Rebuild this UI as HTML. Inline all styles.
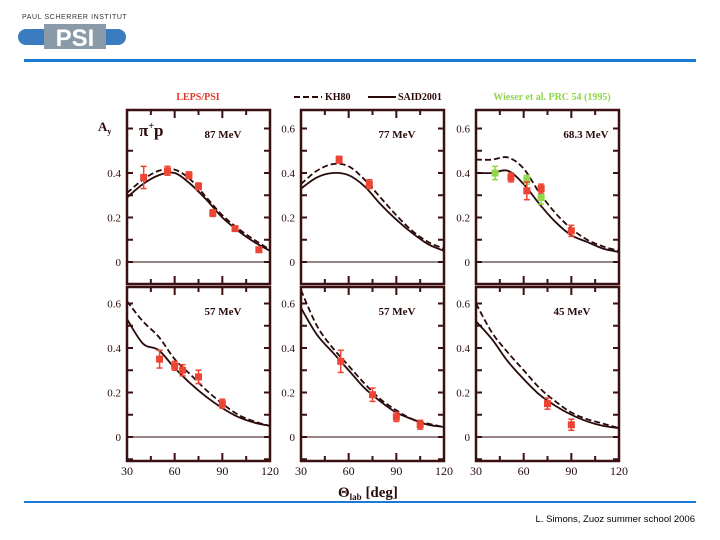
<!DOCTYPE html>
<html><head><meta charset="utf-8"><style>
body{margin:0;background:#fff;width:720px;height:540px;overflow:hidden}
svg{display:block}
</style></head><body>
<svg id="s" width="720" height="540" xmlns="http://www.w3.org/2000/svg" font-family="Liberation Serif, serif">
<g>
<text x="22" y="19" font-family="Liberation Sans, sans-serif" font-size="7" fill="#333" letter-spacing="0.6">PAUL SCHERRER INSTITUT</text>
<rect x="18" y="29" width="108" height="16" rx="8" fill="#3b7cc0"/>
<rect x="44" y="24" width="62" height="25" fill="#8a9aa8"/>
<text x="75" y="46" text-anchor="middle" font-family="Liberation Sans, sans-serif" font-weight="bold" font-size="24" fill="#fff">PSI</text>
</g>
<rect x="24" y="59" width="672" height="3" fill="#1a7ad6"/>
<rect x="24" y="501" width="672" height="2" fill="#1a7ad6"/>
<text x="695" y="522" text-anchor="end" font-family="Liberation Sans, sans-serif" font-size="9.5" fill="#000">L. Simons, Zuoz summer school 2006</text>
<g font-size="10" font-weight="bold">
<text x="198" y="100" text-anchor="middle" fill="#e23a2a">LEPS/PSI</text>
<line x1="294" y1="97" x2="322" y2="97" stroke="#2a0a0a" stroke-width="2" stroke-dasharray="6,3"/>
<text x="325" y="100" fill="#2a0a0a">KH80</text>
<line x1="368" y1="97" x2="396" y2="97" stroke="#2a0a0a" stroke-width="2"/>
<text x="398" y="100" fill="#2a0a0a">SAID2001</text>
<text x="552" y="100" text-anchor="middle" fill="#8fd64a">Wieser et al. PRC 54 (1995)</text>
</g>
<text x="98" y="131" font-size="13" font-weight="bold" fill="#2a0a0a">A<tspan font-size="8" dy="3">y</tspan></text>
<text x="338" y="497" font-size="15" font-weight="bold" fill="#2a0a0a">Θ<tspan font-size="9" dy="3">lab</tspan><tspan dy="-3"> [deg]</tspan></text>
<g id="panels"></g>
</svg>
<script>
const panelTitles=["87 MeV","77 MeV","68.3 MeV","57 MeV","57 MeV","45 MeV"];
const gridX=[30,40,50,60,70,80,90,100,110,120];
const kh80=[
[0.31,0.37,0.41,0.415,0.37,0.29,0.21,0.15,0.10,0.055],
[0.35,0.41,0.44,0.43,0.37,0.29,0.21,0.14,0.09,0.06],
[0.46,0.46,0.47,0.42,0.31,0.22,0.15,0.10,0.07,0.05],
[0.61,0.52,0.45,0.35,0.28,0.21,0.15,0.10,0.07,0.05],
[0.66,0.50,0.40,0.32,0.24,0.17,0.12,0.08,0.06,0.045],
[0.60,0.47,0.38,0.30,0.22,0.16,0.11,0.08,0.06,0.04]];
const said=[
[0.29,0.35,0.39,0.40,0.35,0.28,0.20,0.14,0.09,0.05],
[0.33,0.38,0.40,0.39,0.34,0.26,0.19,0.13,0.08,0.05],
[0.40,0.40,0.41,0.35,0.26,0.18,0.12,0.09,0.06,0.045],
[0.53,0.42,0.39,0.31,0.24,0.18,0.13,0.09,0.065,0.05],
[0.58,0.46,0.38,0.30,0.22,0.16,0.11,0.08,0.055,0.045],
[0.52,0.44,0.34,0.26,0.19,0.14,0.10,0.07,0.05,0.04]];
const lepsTheta=[[40.5,55.5,69,75,84,98,113],[54,73],[52,62,71,90],[50.5,60,65,75,90],[55,75,90,105],[75,90]];
const lepsVal=[[0.38,0.41,0.39,0.34,0.22,0.15,0.055],[0.46,0.35],[0.38,0.32,0.33,0.14],[0.35,0.32,0.30,0.27,0.15],[0.34,0.19,0.09,0.055],[0.15,0.055]];
const lepsErr=[[0.05,0.02,0.015,0.015,0.015,0.01,0.01],[0.015,0.02],[0.02,0.04,0.02,0.025],[0.04,0.02,0.025,0.03,0.02],[0.05,0.03,0.02,0.02],[0.025,0.025]];
const wieserTheta=[42,62,71];
const wieserVal=[0.40,0.37,0.29];
const wieserErr=[0.03,0.02,0.03];
const yTicks=["0","0.2","0.4","0.6"];
const xTicks=["30","60","90","120"];

const NS="http://www.w3.org/2000/svg";
const root=document.getElementById('panels');
const lefts=[127,301,476],tops=[110,287],W=143,H=174;
function mk(t,a,p){const e=document.createElementNS(NS,t);for(const k in a)e.setAttribute(k,a[k]);(p||root).appendChild(e);return e;}
function path(xs,ys,sx,sy){const P=xs.map((x,i)=>[sx(x),sy(ys[i])]);let d="M"+P[0][0]+","+P[0][1];
for(let i=0;i<P.length-1;i++){const p0=P[i-1]||P[i],p1=P[i],p2=P[i+1],p3=P[i+2]||p2;
d+=" C"+(p1[0]+(p2[0]-p0[0])/6)+","+(p1[1]+(p2[1]-p0[1])/6)+" "+(p2[0]-(p3[0]-p1[0])/6)+","+(p2[1]-(p3[1]-p1[1])/6)+" "+p2[0]+","+p2[1];}return d;}
for(let p=0;p<6;p++){
 const L=lefts[p%3],T=tops[Math.floor(p/3)];
 const zeroY=T+(p<3?152:150);
 const sx=v=>L+(v-30)/90*W, sy=v=>zeroY-v*222.5;
 const g=mk('g',{});
 
 
 const fr=mk('rect',{x:L,y:T,width:W,height:H,fill:'none',stroke:'#3a1010','stroke-width':2.5},g);
 
 
 const z=mk('line',{x1:L,x2:L+W,y1:zeroY,y2:zeroY,stroke:'#2a0a0a','stroke-width':1},g);
 
 
 for(let t=30;t<=120;t+=15){const x=sx(t);
  mk('line',{x1:x,x2:x,y1:T,y2:T+(t%30?5:8),stroke:'#3a1010','stroke-width':2},g);
  mk('line',{x1:x,x2:x,y1:T+H,y2:T+H-(t%30?5:8),stroke:'#3a1010','stroke-width':2},g);}
 for(let v=-0.1;v<=0.65;v+=0.1){const y=sy(v);if(y<T||y>T+H)continue;
  mk('line',{x1:L,x2:L+6,y1:y,y2:y,stroke:'#3a1010','stroke-width':2},g);
  mk('line',{x1:L+W,x2:L+W-6,y1:y,y2:y,stroke:'#3a1010','stroke-width':2},g);}
 yTicks.forEach((s,i)=>{if(p==0&&i==3)return;const t=mk('text',{x:L-6,y:sy(i*0.2)+4,'text-anchor':'end','font-size':11,fill:'#2a0a0a'},g);t.textContent=s;
  
  });
 if(p>=3)xTicks.forEach((s,i)=>{const t=mk('text',{x:sx(30+i*30),y:T+H+14,'text-anchor':'middle','font-size':12,fill:'#2a0a0a'},g);t.textContent=s;
  
  });
 const tt=mk('text',{x:L+(p==2?110:96),y:T+28,'text-anchor':'middle','font-size':11,'font-weight':'bold',fill:'#2a0a0a'},g);tt.textContent=panelTitles[p];
 
 
 if(p==0){const pp=mk('text',{x:L+12,y:T+26,'font-size':17,'font-weight':'bold',fill:'#2a0a0a'},g);pp.innerHTML='π<tspan font-size="10" dy="-7">+</tspan><tspan dy="7">p</tspan>';
  
  }
 const cp=mk('clipPath',{id:'c'+p},g);mk('rect',{x:L,y:T,width:W,height:H},cp);
 const d1=mk('path',{d:path(gridX,kh80[p],sx,sy),fill:'none',stroke:'#2a0a0a','stroke-width':1.8,'stroke-dasharray':'6,3','clip-path':'url(#c'+p+')'},g);
 
 
 const d2=mk('path',{d:path(gridX,said[p],sx,sy),fill:'none',stroke:'#2a0a0a','stroke-width':1.8,'clip-path':'url(#c'+p+')'},g);
 
 
 function pts(th,va,er,col,name){th.forEach((t,i)=>{const x=sx(t),y=sy(va[i]),e=er[i]*222.5;
  const pg=mk('g',{},g);
  
  
  mk('line',{x1:x,x2:x,y1:y-e,y2:y+e,stroke:col,'stroke-width':1.5},pg);
  mk('line',{x1:x-3,x2:x+3,y1:y-e,y2:y-e,stroke:col,'stroke-width':1.5},pg);
  mk('line',{x1:x-3,x2:x+3,y1:y+e,y2:y+e,stroke:col,'stroke-width':1.5},pg);
  mk('rect',{x:x-3.5,y:y-3.5,width:7,height:7,fill:col},pg);});}
 if(p==2)pts(wieserTheta,wieserVal,wieserErr,'#8fd64a','wieser-point');
 pts(lepsTheta[p],lepsVal[p],lepsErr[p],'#ee4433','leps-point');
}
</script>
</body></html>
